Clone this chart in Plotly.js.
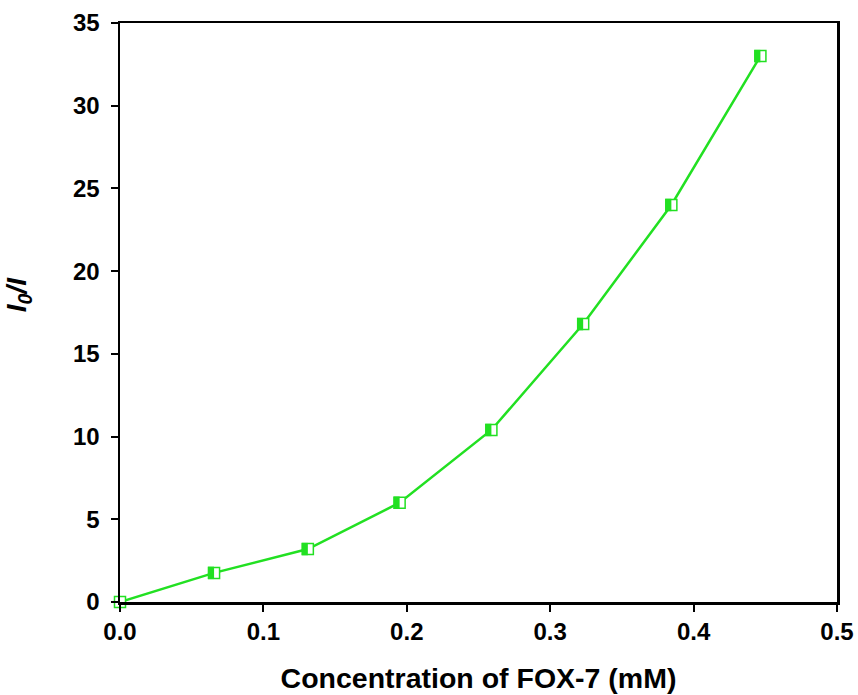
<!DOCTYPE html>
<html>
<head>
<meta charset="utf-8">
<script src="https://cdn.plot.ly/plotly-3.0.1.min.js"></script>
<style>html,body{margin:0;padding:0;background:#fff;}#chart{width:858px;height:695px;}</style>
</head>
<body>
<div id="chart"></div>
<script>
const concentration = [0, 0.0656, 0.131, 0.195, 0.259, 0.323, 0.3845, 0.4466];
const ratioI0I = [0, 1.76, 3.2, 6.0, 10.4, 16.8, 24.0, 33.0];
const xTicks = [0, 0.1, 0.2, 0.3, 0.4, 0.5];
const xTickLabels = ['0.0', '0.1', '0.2', '0.3', '0.4', '0.5'];
const yTicks = [0, 5, 10, 15, 20, 25, 30, 35];
const xTitle = '<b>Concentration of FOX-7 (mM)</b>';
const yTitle = '<b><i>I</i><sub><i>0</i></sub><i>/I</i></b>';

const green = '#22e022';
const fontFam = 'Liberation Sans, Arial, sans-serif';

const trace = {
  x: concentration, y: ratioI0I,
  mode: 'lines+markers', type: 'scatter',
  cliponaxis: false,
  line: {color: green, width: 2.5},
  marker: {symbol: 'square', size: 11, color: '#ffffff', line: {color: green, width: 1.5}},
  hoverinfo: 'none'
};

// left-half fill of each marker, anchored at each data point
const shapes = concentration.map((xv, i) => ({
  type: 'rect', xref: 'x', yref: 'y', layer: 'above',
  xsizemode: 'pixel', ysizemode: 'pixel',
  xanchor: xv, yanchor: ratioI0I[i],
  x0: -6.2, x1: 0, y0: -6.2, y1: 6.2,
  fillcolor: green, line: {width: 0}
}));

const layout = {
  width: 858, height: 695,
  margin: {l: 120, r: 21, t: 23, b: 93},
  paper_bgcolor: '#ffffff', plot_bgcolor: '#ffffff',
  showlegend: false,
  shapes: shapes,
  font: {family: fontFam, color: '#000'},
  annotations: [{
    text: yTitle, xref: 'paper', yref: 'paper', x: -0.142, y: 0.53,
    xanchor: 'center', yanchor: 'middle', textangle: -90, showarrow: false,
    font: {family: fontFam, size: 28, color: '#000'}
  }],
  xaxis: {
    range: [0, 0.5], tickvals: xTicks, ticktext: xTickLabels,
    ticks: 'outside', ticklen: 7, tickwidth: 2, tickcolor: '#000',
    showline: true, linewidth: 2.5, linecolor: '#000', mirror: true,
    showgrid: false, zeroline: false, automargin: false,
    tickfont: {family: fontFam, size: 24, color: '#000', weight: 'bold'},
    title: {text: xTitle, font: {family: fontFam, size: 28.5, color: '#000'}, standoff: 24}
  },
  yaxis: {
    range: [0, 35], tickvals: yTicks,
    ticks: 'outside', ticklen: 7, tickwidth: 2, tickcolor: '#000',
    showline: true, linewidth: 2.5, linecolor: '#000', mirror: true,
    showgrid: false, zeroline: false, automargin: false,
    ticklabelstandoff: 6,
    tickfont: {family: fontFam, size: 24, color: '#000', weight: 'bold'}
  }
};

Plotly.newPlot('chart', [trace], layout, {displayModeBar: false, staticPlot: true});
</script>
</body>
</html>
